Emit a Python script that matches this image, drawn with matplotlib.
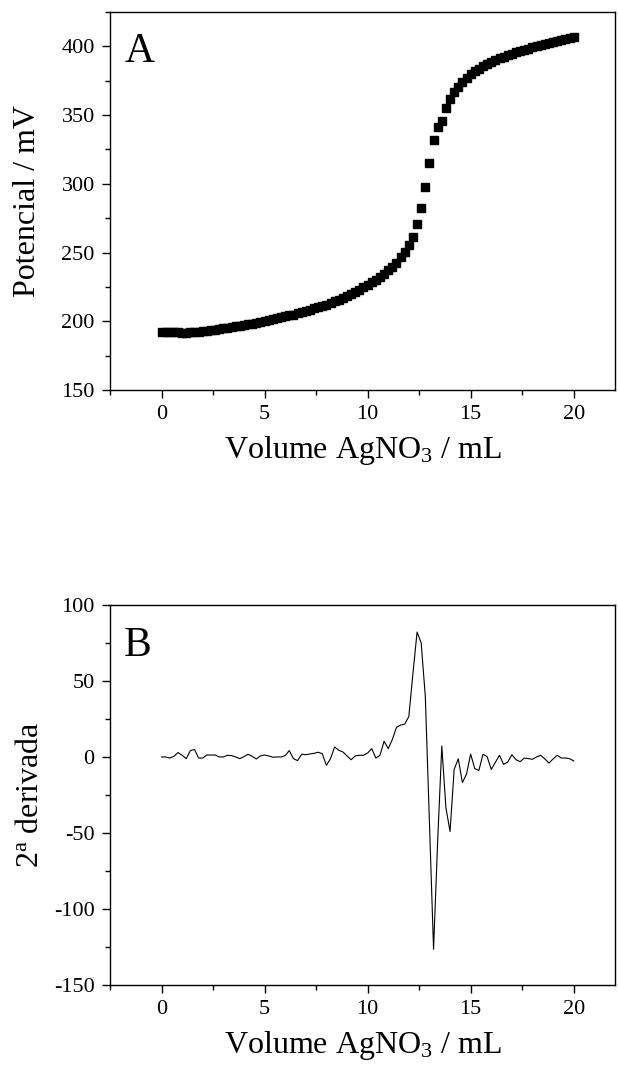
import numpy as np
import matplotlib
matplotlib.use("Agg")
import matplotlib.pyplot as plt
from matplotlib.ticker import MultipleLocator

plt.rcParams['font.family'] = ['Liberation Serif', 'DejaVu Serif']
plt.rcParams['mathtext.fontset'] = 'custom'
plt.rcParams['mathtext.rm'] = 'Liberation Serif'
plt.rcParams['mathtext.it'] = 'Liberation Serif'
plt.rcParams['axes.unicode_minus'] = False

# volume (mL), 0.2 mL steps
volume = np.round(np.arange(0, 20.01, 0.2), 1)

# potential (mV)
potencial = [
    192.5, 192.3, 192.1, 192.0, 191.9, 191.8, 191.8, 191.9, 192.1, 192.4,
    192.8, 193.2, 193.6, 194.0, 194.5, 194.9, 195.4, 195.8, 196.3, 196.8,
    197.3, 197.8, 198.3, 198.8, 199.3, 200.5, 201.0, 201.6, 202.2, 202.8,
    203.5, 204.2, 204.9, 205.7, 206.6, 207.5, 208.4, 209.3, 210.2, 211.1,
    212.0, 213.2, 214.4, 215.7, 217.1, 218.5, 220.0, 221.5, 223.0, 224.7,
    226.5, 228.3, 230.2, 232.2, 234.5, 237.0, 239.8, 242.5, 246.5, 250.5,
    255.5, 261.5, 270.5, 282.5, 298.0, 315.0, 332.0, 341.0, 345.5, 355.0,
    361.5, 366.5, 370.5, 374.0, 377.0, 379.5, 381.8, 383.8, 385.6, 387.2,
    388.7, 390.0, 391.3, 392.5, 393.6, 394.6, 395.6, 396.5, 397.4, 398.2,
    399.2, 400.0, 400.8, 401.6, 402.4, 403.2, 403.9, 404.6, 405.3, 406.0,
    406.7,
]

# second derivative
derivada2 = [
    0.0, 0.0, -0.7, 0.4, 2.9, 1.1, -1.1, 4.2, 4.9, -0.7,
    -0.7, 1.3, 1.3, 1.3, 0.0, 0.0, 1.1, 0.9, 0.0, -1.1,
    0.2, 1.8, 0.4, -1.3, 0.7, 1.3, 0.7, -0.2, 0.0, 0.0,
    0.9, 4.2, -1.1, -2.4, 1.8, 1.5, 2.0, 2.4, 3.1, 2.2,
    -5.5, -1.1, 6.6, 4.4, 3.3, 0.7, -1.8, 0.7, 1.1, 1.1,
    2.6, 5.5, -0.7, 1.1, 10.4, 5.5, 11.5, 19.5, 21.0, 21.6,
    26.6, 55.0, 82.2, 75.0, 39.8, -43.0, -126.5, -55.0, 7.2, -33.5,
    -49.0, -8.1, -1.2, -16.9, -11.2, 1.9, -7.7, -8.8, 1.8, 0.2,
    -8.2, -3.5, 1.1, -4.9, -3.3, 1.5, -1.8, -3.1, -0.7, -1.1,
    -1.5, 0.0, 1.1, -1.3, -4.0, -1.3, 1.1, -0.7, -0.7, -1.1,
    -2.6,
]

fig = plt.figure(figsize=(6.18, 10.67), dpi=100)
axA = fig.add_axes([0.178, 0.6345, 0.817, 0.3543])
axB = fig.add_axes([0.178, 0.0769, 0.817, 0.3561])

axA.plot(volume, potencial, 's', color='black', markersize=5.2)
axB.plot(volume, derivada2, '-', color='black', linewidth=0.8)

for ax in (axA, axB):
    ax.set_xlim(-2.5, 22)
    ax.xaxis.set_major_locator(MultipleLocator(5))
    ax.xaxis.set_minor_locator(MultipleLocator(2.5))
    ax.yaxis.set_major_locator(MultipleLocator(50))
    ax.yaxis.set_minor_locator(MultipleLocator(25))
    ax.tick_params(which='both', direction='out', top=False, right=False,
                   labelsize=16, width=1.0, pad=5)
    ax.tick_params(which='major', length=6)
    ax.tick_params(which='minor', length=3.5)
    for s in ax.spines.values():
        s.set_linewidth(1.0)
    ax.set_xlabel('Volume AgNO$_3$ / mL', fontsize=23, labelpad=7)

axA.set_ylim(150, 425)
axA.set_ylabel('Potencial / mV', fontsize=23)
axA.yaxis.set_label_coords(-0.135, 0.5)
axA.text(0.028, 0.868, 'A', transform=axA.transAxes, fontsize=30,
         ha='left', va='baseline')

axB.set_ylim(-150, 100)
axB.set_ylabel('2$^\\mathrm{a}$ derivada', fontsize=23)
axB.yaxis.set_label_coords(-0.128, 0.5)
axB.text(0.028, 0.866, 'B', transform=axB.transAxes, fontsize=30,
         ha='left', va='baseline')

fig.savefig('out.png', dpi=100)
